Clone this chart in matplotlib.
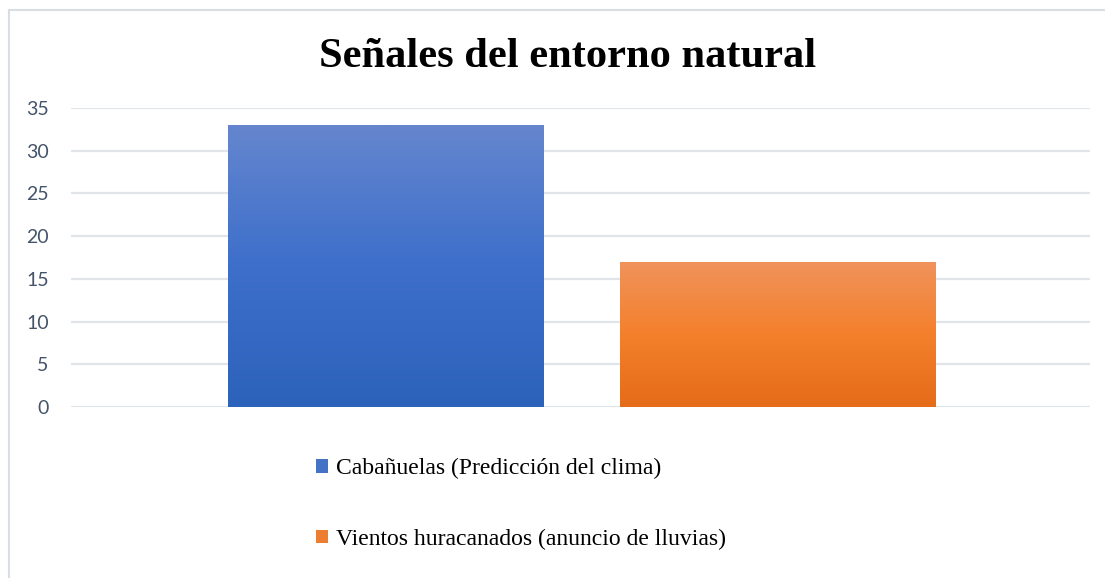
import matplotlib
matplotlib.use("Agg")
import matplotlib.pyplot as plt
import numpy as np
from matplotlib.patches import Patch, Rectangle
from matplotlib.colors import LinearSegmentedColormap

title = "Señales del entorno natural"
series = ["Cabañuelas (Predicción del clima)", "Vientos huracanados (anuncio de lluvias)"]
values = [33, 17]
yticks = [0, 5, 10, 15, 20, 25, 30, 35]

solid_colors = ["#4472C4", "#ED7D31"]
grad_top = ["#6586CE", "#F0935C"]
grad_mid = ["#3D6FCB", "#F4802C"]
grad_bot = ["#2D62BA", "#E56C18"]

W, H = 1105, 578
fig = plt.figure(figsize=(W / 100, H / 100), dpi=100)
fig.patches.append(Rectangle((9 / W, -0.1), 1.2, (H - 10) / H + 0.1, transform=fig.transFigure,
                             fill=False, edgecolor="#D9DEE5", linewidth=1.5, zorder=0))

ax = fig.add_axes([71 / W, (H - 407) / H, 1019 / W, 299 / H])
x = np.arange(len(values))
bars = ax.bar(x, values, width=0.804, color="none", edgecolor="none", zorder=2)
for b, top, mid, bot in zip(bars, grad_top, grad_mid, grad_bot):
    cmap = LinearSegmentedColormap.from_list("g", [bot, mid, top])
    grad = np.linspace(0, 1, 256).reshape(-1, 1)
    bx, by = b.get_x(), b.get_y()
    im = ax.imshow(grad, cmap=cmap, origin="lower", aspect="auto",
                   extent=(bx, bx + b.get_width(), by, by + b.get_height()), zorder=2)
    im.set_clip_path(b)

ax.set_xlim(-0.802, 1.797)
ax.set_ylim(0, 35)
ax.set_yticks(yticks)
ax.set_xticks([])
ax.yaxis.grid(True, color="#E1E5EA", linewidth=1.6)
ax.set_axisbelow(True)
for s in ax.spines.values():
    s.set_visible(False)
ax.tick_params(axis="y", length=0, pad=16, labelsize=14, labelcolor="#44546A")
for lab in ax.get_yticklabels():
    lab.set_fontfamily("Lato")

fig.text(0.514, (H - 57) / H, title, ha="center", va="center",
         fontfamily="Liberation Serif", fontweight="bold", fontsize=30.6, color="black")

handles = [Patch(facecolor=c, edgecolor="none") for c in solid_colors]
fig.legend(handles, series, loc="center left", bbox_to_anchor=(295 / W, (H - 504) / H),
           frameon=False, prop={"family": "Liberation Serif", "size": 17},
           handlelength=0.5, handleheight=0.5, handletextpad=0.35, labelspacing=2.1)

fig.savefig("out.png", dpi=100)
